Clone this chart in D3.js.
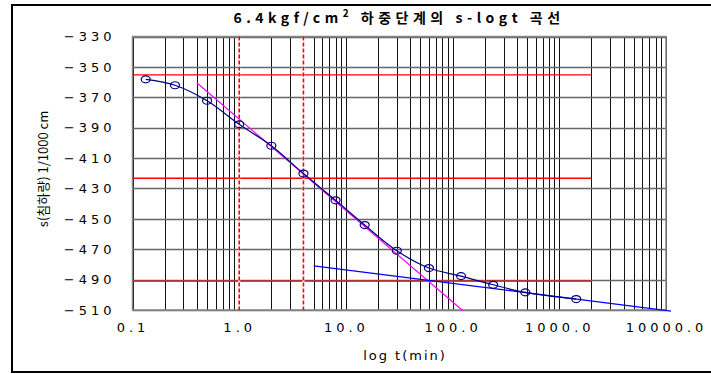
<!DOCTYPE html>
<html><head><meta charset="utf-8">
<script src="https://cdn.jsdelivr.net/npm/d3@7"></script>
<style>
body{margin:0;background:#fff;}
svg{display:block;}
</style></head>
<body>
<svg id="c" width="711" height="374"></svg>
<script>
// ---- data ----
const times = [0.133, 0.25, 0.5, 1, 2, 4, 8, 15, 30, 60, 120, 240, 480, 1440];
const settlement = [-358.2, -362.1, -372.3, -387.8, -401.9, -420.2, -437.8, -454.1, -471.0, -482.4, -487.7, -493.4, -498.4, -502.8];
const xTickValues = [0.1, 1, 10, 100, 1000, 10000];
const xTickLabels = ["0.1", "1.0", "10.0", "100.0", "1000.0", "10000.0"];
const yTickValues = [-330, -350, -370, -390, -410, -430, -450, -470, -490, -510];
const primaryTangentT = [0.4, 125];
const primaryTangentS = [-360.4, -510.5];
const secondaryTangentT = [5, 11140];
const secondaryTangentS = [-481.0, -510.7];
const refLevels = [-355.3, -423.3, -491.0];   // d0, d50, d100
const refLevelEndT = 2000;
const refTimes = [1, 4];                      // t1, 4*t1
const titleMain = "6.4kgf/cm";
const titleSup = "2";
const titleRest = " 하중단계의 s-logt  곡선";
const xTitle = "log t(min)";
const yTitle = "s(침하량) 1/1000 cm";

// ---- layout ----
const svg = d3.select("#c");
const L = 132.5, T = 36.5, R = 666, B = 310;
const x = d3.scaleLog().domain([0.1, 10000]).range([L, R]);
const y = d3.scaleLinear().domain([-330, -510]).range([T, B]);

// outer frame
svg.append("rect").attr("x", 12).attr("y", 5).attr("width", 720).attr("height", 367)
  .attr("fill", "none").attr("stroke", "#000").attr("stroke-width", 2);

// vertical grid (log)
const vgrid = [];
for (let k = -1; k < 4; k++) for (let m = 1; m <= 9; m++) vgrid.push(m * Math.pow(10, k));
vgrid.push(10000);
svg.append("g").selectAll("line").data(vgrid).join("line")
  .attr("x1", d => Math.round(x(d)) + 0.5).attr("x2", d => Math.round(x(d)) + 0.5)
  .attr("y1", T).attr("y2", B)
  .attr("stroke", "#111").attr("stroke-width", 1);

// horizontal grid
svg.append("g").selectAll("line").data(yTickValues).join("line")
  .attr("x1", L).attr("x2", R)
  .attr("y1", d => Math.round(y(d)) + 0.5).attr("y2", d => Math.round(y(d)) + 0.5)
  .attr("stroke", "#666").attr("stroke-width", 1.3);

// plot border
svg.append("rect").attr("x", L).attr("y", T).attr("width", R - L).attr("height", B - T)
  .attr("fill", "none").attr("stroke", "#888").attr("stroke-width", 1.5);

// red reference horizontal lines
svg.append("g").selectAll("line").data(refLevels).join("line")
  .attr("x1", L).attr("x2", x(refLevelEndT))
  .attr("y1", d => y(d)).attr("y2", d => y(d))
  .attr("stroke", "#ff0000").attr("stroke-width", 1.3);

// red dashed verticals (white underlay hides grid line in gaps)
svg.append("g").selectAll("line").data(refTimes).join("line")
  .attr("x1", d => x(d)).attr("x2", d => x(d))
  .attr("y1", T + 1).attr("y2", B - 1)
  .attr("stroke", "#fff").attr("stroke-width", 2);
svg.append("g").selectAll("line").data(refTimes).join("line")
  .attr("x1", d => x(d)).attr("x2", d => x(d))
  .attr("y1", T).attr("y2", B)
  .attr("stroke", "#ff0000").attr("stroke-width", 1.6).attr("stroke-dasharray", "4,2");

// tangents
const seg = d3.line().x(d => x(d[0])).y(d => y(d[1]));
svg.append("path").attr("d", seg(d3.zip(primaryTangentT, primaryTangentS)))
  .attr("stroke", "#ff00ff").attr("stroke-width", 1.2).attr("fill", "none");
svg.append("path").attr("d", seg(d3.zip(secondaryTangentT, secondaryTangentS)))
  .attr("stroke", "#0000ff").attr("stroke-width", 1.2).attr("fill", "none");

// curve
const pts = d3.zip(times, settlement);
svg.append("path").attr("d", d3.line().x(d => x(d[0])).y(d => y(d[1])).curve(d3.curveCatmullRom.alpha(0.5))(pts))
  .attr("stroke", "#000080").attr("stroke-width", 1.2).attr("fill", "none");
svg.append("g").selectAll("ellipse").data(pts).join("ellipse")
  .attr("cx", d => x(d[0])).attr("cy", d => y(d[1]))
  .attr("rx", 4.5).attr("ry", 3.5)
  .attr("fill", "none").attr("stroke", "#000080").attr("stroke-width", 1.2);

// axes labels via d3 axes
const fontTick = "'DejaVu Sans', sans-serif";
const yAxis = d3.axisLeft(y).tickValues(yTickValues).tickSize(0).tickPadding(0).tickFormat(d3.format("d"));
const gy = svg.append("g").attr("transform", `translate(${L - 21},0)`).call(yAxis);
gy.select(".domain").remove();
gy.selectAll("text").attr("font-family", fontTick).attr("font-size", 13)
  .attr("letter-spacing", "4px").attr("fill", "#000").attr("dx", "4px");

const xAxis = d3.axisBottom(x).tickValues(xTickValues).tickSize(0).tickPadding(0)
  .tickFormat((d, i) => xTickLabels[i]);
const gx = svg.append("g").attr("transform", `translate(0,${B + 13})`).call(xAxis);
gx.select(".domain").remove();
gx.selectAll("text").attr("font-family", fontTick).attr("font-size", 13)
  .attr("letter-spacing", "4px").attr("fill", "#000").attr("dx", "0px");

// axis titles
svg.append("text").attr("x", 405).attr("y", 360).attr("text-anchor", "middle")
  .attr("font-family", fontTick).attr("font-size", 13).attr("letter-spacing", "2px")
  .text(xTitle);
svg.append("text").attr("transform", "translate(48,169) rotate(-90)").attr("text-anchor", "middle")
  .attr("font-family", "'Noto Sans CJK KR', 'DejaVu Sans', sans-serif").attr("font-size", 13)
  .text(yTitle);

// title
const tt = svg.append("text").attr("x", 399).attr("y", 23).attr("text-anchor", "middle")
  .attr("font-family", "'Noto Sans CJK KR', sans-serif").attr("font-size", 14)
  .attr("font-weight", "bold").attr("letter-spacing", "4.5px");
tt.append("tspan").text(titleMain);
tt.append("tspan").attr("dy", -6).attr("font-size", 10).text(titleSup);
tt.append("tspan").attr("dy", 6).text(titleRest);
</script>
</body></html>
